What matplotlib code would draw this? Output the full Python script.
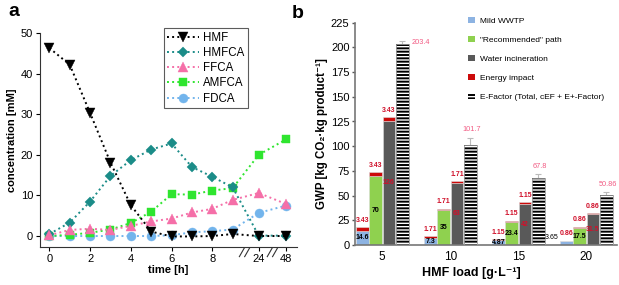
import matplotlib
matplotlib.use('Agg')
import matplotlib.pyplot as plt
from matplotlib.patches import Patch
from matplotlib.lines import Line2D
import matplotlib.transforms as mtransforms

plt.rcParams['font.family'] = ['Liberation Sans', 'DejaVu Sans']
plt.rcParams['hatch.linewidth'] = 1.4

# ---------------- Panel a data ----------------
time_h = [0, 1, 2, 3, 4, 5, 6, 7, 8, 9, 24, 48]
HMF = [46.3, 42.2, 30.3, 18.1, 7.6, 1.1, -0.1, -0.1, 0.0, 0.5, 0.0, 0.0]
HMFCA = [0.5, 3.3, 8.5, 14.8, 18.7, 21.3, 22.8, 17.0, 14.6, 12.0, 0.1, 0.1]
FFCA = [0.2, 1.5, 1.8, 1.5, 2.5, 3.6, 4.3, 5.8, 6.7, 8.9, 10.6, 7.9]
AMFCA = [0.0, 0.3, 0.8, 1.6, 3.2, 6.0, 10.3, 10.2, 11.2, 11.8, 20.0, 23.8]
FDCA = [0.0, 0.0, 0.0, 0.0, 0.0, 0.0, 0.2, 0.9, 1.2, 1.6, 5.7, 7.5]
time_tick_labels = ['0', '2', '4', '6', '8', '24', '48']

# ---------------- Panel b data ----------------
hmf_load = ['5', '10', '15', '20']
mild_wwtp = [14.6, 7.3, 4.87, 3.65]
recommended = [70, 35, 23.4, 17.5]
incineration = [126, 63, 42, 31.5]
energy = [3.43, 1.71, 1.15, 0.86]
efactor = [203.4, 101.7, 67.8, 50.86]
efactor_err = [3, 7, 4, 3]

# broken time axis: linear up to 9 h, then compressed segments
BREAK_POS = {24: 10.28, 48: 11.62}


def tpos(t):
    return BREAK_POS.get(t, t)


fig = plt.figure(figsize=(6.19, 2.85), dpi=100)

# ================= Panel a =================
W, H = 619.0, 285.0
axa = fig.add_axes([40 / W, 1 - 247 / H, 257 / W, 214 / H])
xs = [tpos(t) for t in time_h]

series = [
    ('FDCA', FDCA, '#72b4ec', 'o', 6.5),
    ('AMFCA', AMFCA, '#2fe52f', 's', 5.5),
    ('HMFCA', HMFCA, '#1b8c88', 'D', 5.5),
    ('FFCA', FFCA, '#f56fa8', '^', 6.5),
    ('HMF', HMF, '#000000', 'v', 6.5),
]
handles = {}
for i, (name, ys, col, mk, ms) in enumerate(series):
    ln, = axa.plot(xs, ys, linestyle=':', color=col, lw=1.4, marker=mk,
                   ms=ms, markeredgewidth=0.3, markeredgecolor=col, zorder=3 + i,
                   clip_on=False)
    handles[name] = ln

axa.set_xlim(-0.46, 12.16)
axa.set_ylim(-2.7, 50)
axa.set_xticks([tpos(t) for t in [0, 2, 4, 6, 8, 24, 48]])
axa.set_xticklabels(time_tick_labels)
axa.set_yticks([0, 10, 20, 30, 40, 50])
axa.spines['top'].set_visible(False)
axa.spines['right'].set_visible(False)
for s in ['left', 'bottom']:
    axa.spines[s].set_linewidth(0.8)
    axa.spines[s].set_color('#333333')
axa.tick_params(labelsize=8, length=3, width=0.8, pad=2)
axa.set_xlabel('time [h]', fontsize=8, fontweight='bold', labelpad=1)
axa.set_ylabel('concentration [mM]', fontsize=8, fontweight='bold', labelpad=3)

# axis break marks
trans = mtransforms.blended_transform_factory(axa.transData, axa.transAxes)
for bx in [9.58, 10.95]:
    axa.plot([bx - 0.25, bx + 0.25], [-0.025, -0.025], color='white', lw=3,
             transform=trans, clip_on=False, zorder=20)
    for dx in (-0.13, 0.13):
        axa.plot([bx + dx - 0.12, bx + dx + 0.12], [-0.045, -0.005],
                 color='#333333', lw=0.8, transform=trans, clip_on=False, zorder=21)

order = ['HMF', 'HMFCA', 'FFCA', 'AMFCA', 'FDCA']
leg = axa.legend([handles[n] for n in order], order, loc='upper left',
                 bbox_to_anchor=(0.4825, 1.022), borderaxespad=0, fontsize=8.3,
                 frameon=True, fancybox=False, edgecolor='#333333',
                 handlelength=2.7, labelspacing=0.28, borderpad=0.3,
                 handletextpad=0.4)
leg.get_frame().set_linewidth(0.8)

fig.text(8 / W, 1 - 12 / H, 'a', fontsize=14, fontweight='bold', va='center', ha='left')
fig.text(292 / W, 1 - 14 / H, 'b', fontsize=14, fontweight='bold', va='center', ha='left')

# ================= Panel b =================
axb = fig.add_axes([355 / W, 1 - 245 / H, 262 / W, (245 - 22.7) / H])
step = 0.196
width = 0.185
centers = list(range(len(hmf_load)))
c_mild, c_rec, c_inc, c_en = '#8db3e2', '#8fd14f', '#595959', '#cc0a0a'
red_lbl = '#d0102a'
pink = '#f25c84'
lfs = 5.0

x_mild = [c - 1.5 * step for c in centers]
x_rec = [c - 0.5 * step for c in centers]
x_inc = [c + 0.5 * step for c in centers]
x_ef = [c + 1.5 * step for c in centers]

for xv, base, col in [(x_mild, mild_wwtp, c_mild), (x_rec, recommended, c_rec),
                      (x_inc, incineration, c_inc)]:
    axb.bar(xv, base, width=width, color=col, edgecolor='#dddddd', linewidth=0.4, zorder=2)
    axb.bar(xv, energy, bottom=base, width=width, color=c_en, edgecolor='#dddddd',
            linewidth=0.4, zorder=2)

# E-factor hatched bars
axb.bar(x_ef, efactor, width=width, color='white', hatch='-----', edgecolor='black',
        linewidth=0, zorder=2)
axb.bar(x_ef, efactor, width=width, fill=False, edgecolor='#9a9a9a', linewidth=0.6, zorder=3)
axb.errorbar(x_ef, efactor, yerr=[[0] * 4, efactor_err], fmt='none', ecolor='#bbbbbb',
             elinewidth=0.8, capsize=2.5, capthick=0.8, zorder=1)

# value labels
for i in range(4):
    for xv, base, col in [(x_rec, recommended, 'black'), (x_inc, incineration, red_lbl)]:
        axb.text(xv[i], base[i] / 2, f'{base[i]:g}', ha='center', va='center',
                 fontsize=lfs, fontweight='bold', color=col, zorder=5)
    if i < 3:
        axb.text(x_mild[i], mild_wwtp[i] / 2, f'{mild_wwtp[i]:g}', ha='center', va='center',
                 fontsize=lfs, fontweight='bold', color='black', zorder=5)
    else:
        axb.annotate(f'{mild_wwtp[i]:g}', (x_mild[i] - width / 2, mild_wwtp[i]),
                     xytext=(-1, 3), textcoords='offset points', ha='right', va='center',
                     fontsize=lfs, color='black', zorder=5)
    for xv, base in [(x_mild, mild_wwtp), (x_rec, recommended), (x_inc, incineration)]:
        axb.annotate(f'{energy[i]:g}', (xv[i], base[i] + energy[i]), xytext=(0, 2.5),
                     textcoords='offset points', ha='center', va='bottom',
                     fontsize=lfs, fontweight='bold', color=red_lbl, zorder=5)
    if i == 0:
        axb.annotate(f'{efactor[i]:g}', (x_ef[i] + width / 2, efactor[i]), xytext=(2, 1),
                     textcoords='offset points', ha='left', va='center',
                     fontsize=lfs + 0.3, color=pink, zorder=5)
    else:
        axb.annotate(f'{efactor[i]:g}', (x_ef[i], efactor[i] + efactor_err[i]), xytext=(1, 3),
                     textcoords='offset points', ha='center', va='bottom',
                     fontsize=lfs + 0.3, color=pink, zorder=5)

axb.set_xlim(-0.4, 3.45)
axb.set_ylim(0, 225)
axb.set_yticks(range(0, 226, 25))
axb.set_xticks(centers)
axb.set_xticklabels(hmf_load)
axb.spines['top'].set_visible(False)
axb.spines['right'].set_visible(False)
axb.spines['left'].set_linewidth(1.2)
axb.spines['left'].set_color('#777777')
axb.spines['bottom'].set_linewidth(1.2)
axb.spines['bottom'].set_color('#777777')
axb.tick_params(axis='y', labelsize=8, length=2.5, width=1, color='#555555', pad=1.5)
axb.tick_params(axis='x', labelsize=8.5, length=0, pad=4)
axb.set_xlabel('HMF load [g·L⁻¹]', fontsize=9, fontweight='bold', labelpad=2)
axb.xaxis.set_label_coords((471 - 355) / 262, -0.1)
axb.set_ylabel('GWP [kg CO₂·kg product⁻¹]', fontsize=8.3, fontweight='bold', labelpad=2)

leg_handles = [
    Patch(facecolor=c_mild, edgecolor='none'),
    Patch(facecolor=c_rec, edgecolor='none'),
    Patch(facecolor=c_inc, edgecolor='none'),
    Patch(facecolor=c_en, edgecolor='none'),
    Patch(facecolor='white', edgecolor='black', hatch='-----', linewidth=0),
]
leg_labels = ['Mild WWTP', '"Recommended" path', 'Water incineration', 'Energy impact',
              'E-Factor (Total, cEF + E+-Factor)']
fig.legend(leg_handles, leg_labels, loc='upper left', bbox_to_anchor=(468 / W, 1 - 17 / H),
           frameon=False, fontsize=6, handlelength=0.8, handleheight=0.8,
           handletextpad=0.7, labelspacing=1.3, borderpad=0, borderaxespad=0)

fig.savefig('out.png', dpi=100)
